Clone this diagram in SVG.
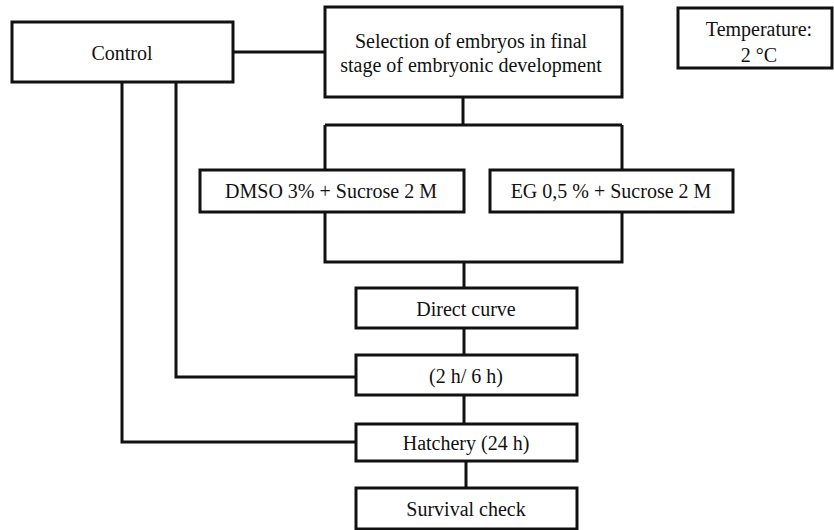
<svg xmlns="http://www.w3.org/2000/svg" width="834" height="530" viewBox="0 0 834 530">
<style>
.box{fill:#fff;stroke:#111;stroke-width:3}
.ln{fill:none;stroke:#111;stroke-width:3}
.t{font-family:'Liberation Serif','Times New Roman','DejaVu Serif',serif;font-size:20px;fill:#111;text-anchor:middle}
</style>
<rect width="834" height="530" fill="#fff"/>
<g id="connectors">
<path class="ln" d="M233 52H325"/>
<path class="ln" d="M463 97V125"/>
<path class="ln" d="M325 125H622"/>
<path class="ln" d="M325 125V170M622 125V170"/>
<path class="ln" d="M325 212V262H622V212"/>
<path class="ln" d="M464 262V288"/>
<path class="ln" d="M464 328V355"/>
<path class="ln" d="M464 395V424"/>
<path class="ln" d="M466 461V488"/>
<path class="ln" d="M176 82V377H356"/>
<path class="ln" d="M122 82V442H356"/>
</g>
<g id="control"><rect class="box" x="12" y="22" width="221" height="60"/><text class="t" x="122" y="60">Control</text></g>
<g id="selection"><rect class="box" x="325" y="7" width="297" height="90"/><text class="t" x="471" y="48">Selection of embryos in final</text><text class="t" x="471" y="72">stage of embryonic development</text></g>
<g id="temperature"><rect class="box" x="678" y="8" width="154" height="60"/><text class="t" x="759" y="36">Temperature:</text><text class="t" x="759" y="62">2 °C</text></g>
<g id="dmso"><rect class="box" x="200" y="170" width="264" height="42"/><text class="t" x="331" y="198">DMSO 3% + Sucrose 2 M</text></g>
<g id="eg"><rect class="box" x="490" y="170" width="243" height="42"/><text class="t" x="611" y="198">EG 0,5 % + Sucrose 2 M</text></g>
<g id="direct"><rect class="box" x="356" y="288" width="221" height="40"/><text class="t" x="466" y="316">Direct curve</text></g>
<g id="time"><rect class="box" x="356" y="355" width="221" height="40"/><text class="t" x="466" y="383">(2 h/ 6 h)</text></g>
<g id="hatchery"><rect class="box" x="356" y="424" width="221" height="37"/><text class="t" x="466" y="450">Hatchery (24 h)</text></g>
<g id="survival"><rect class="box" x="356" y="488" width="221" height="41"/><text class="t" x="466" y="516">Survival check</text></g>
</svg>
